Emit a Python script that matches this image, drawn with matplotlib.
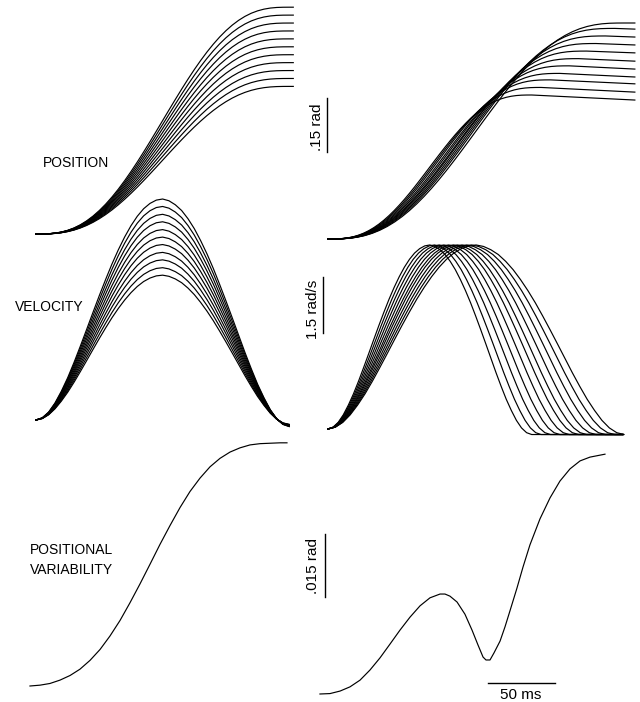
import numpy as np
import matplotlib.pyplot as plt

W, H = 640, 702
MS = 1.34          # pixels per ms
POS = 360.0        # pixels per rad (position)
VEL = 37.33        # pixels per rad/s
VAR = 4200.0       # pixels per rad (variability)

# normalised movement profiles, 41 samples from start to end of movement
s = np.linspace(0, 1, 41)
vel_shape = np.array([0, 0.010, 0.036, 0.077, 0.130, 0.191, 0.260, 0.334, 0.410, 0.487,
                      0.563, 0.636, 0.706, 0.770, 0.828, 0.879, 0.922, 0.956, 0.980, 0.995,
                      1.000, 0.992, 0.974, 0.948, 0.911, 0.866, 0.812, 0.752, 0.686, 0.614,
                      0.539, 0.462, 0.384, 0.306, 0.232, 0.162, 0.101, 0.047, 0.006, -0.020,
                      -0.030])
pos_shape = np.array([0, 0.0002, 0.0012, 0.0038, 0.0086, 0.0161, 0.0266, 0.0405, 0.0579, 0.0789,
                      0.1035, 0.1316, 0.1631, 0.1977, 0.2352, 0.2752, 0.3174, 0.3615, 0.4069, 0.4532,
                      0.5, 0.5468, 0.5931, 0.6385, 0.6826, 0.7248, 0.7648, 0.8023, 0.8369, 0.8684,
                      0.8965, 0.9211, 0.9421, 0.9595, 0.9734, 0.9839, 0.9914, 0.9962, 0.9988, 0.9998,
                      1.0])

# left column: same duration, different amplitudes
left_T = 189
left_end = 192
left_amp = [0.630, 0.608, 0.586, 0.564, 0.542, 0.520, 0.498, 0.476, 0.454, 0.432, 0.410]
left_vpeak = [5.92, 5.72, 5.51, 5.31, 5.10, 4.90, 4.70, 4.49, 4.29, 4.08, 3.88]

# right column: same peak velocity, different durations
right_T = [152, 159, 166, 173, 180, 187, 193, 200, 207, 214, 221]
right_amp = [0.400, 0.421, 0.442, 0.460, 0.481, 0.501, 0.522, 0.543, 0.564, 0.585, 0.600]
right_final = [0.386, 0.408, 0.431, 0.450, 0.472, 0.494, 0.517, 0.539, 0.561, 0.583, 0.600]
right_vpeak = 4.93
right_pos_end = 229
right_vel_end = 220

# positional variability (ms, rad)
var_left_t = [-4.5, 3.0, 10.4, 17.9, 25.4, 32.8, 40.3, 47.8, 55.2, 62.7, 70.1, 77.6, 85.1,
              92.5, 100.0, 107.5, 114.9, 122.4, 129.9, 137.3, 144.8, 152.2, 159.7, 167.2,
              174.6, 182.1, 187.3]
var_left = [0, 0.0002, 0.0006, 0.0014, 0.0025, 0.0040, 0.0061, 0.0087, 0.0119, 0.0156,
            0.0198, 0.0243, 0.0290, 0.0337, 0.0382, 0.0425, 0.0463, 0.0495, 0.0522, 0.0542,
            0.0557, 0.0567, 0.0574, 0.0577, 0.0578, 0.0579, 0.0579]
var_right_t = [-6.0, 1.5, 9.0, 16.4, 23.9, 31.3, 38.8, 46.3, 53.7, 61.2, 68.7, 76.1, 83.6,
               87.3, 91.0, 96.3, 102.2, 107.5, 111.9, 115.7, 117.9, 120.9, 123.9, 128.4,
               132.1, 135.8, 141.0, 145.5, 150.7, 158.2, 165.7, 173.1, 180.6, 188.1, 195.5,
               206.7]
var_right = [0, 0.0001, 0.0007, 0.0017, 0.0033, 0.0057, 0.0086, 0.0119, 0.0152, 0.0183,
             0.0210, 0.0229, 0.0238, 0.0238, 0.0233, 0.0219, 0.0190, 0.0152, 0.0117, 0.0088,
             0.0081, 0.0081, 0.0098, 0.0126, 0.0160, 0.0198, 0.0252, 0.0302, 0.0355, 0.0417,
             0.0467, 0.0507, 0.0536, 0.0555, 0.0564, 0.0571]

fig = plt.figure(figsize=(6.4, 7.02), dpi=100)


def panel(x0, y0, sy, xlim, ylim):
    left = x0 + xlim[0] * MS
    right = x0 + xlim[1] * MS
    bottom = y0 - ylim[0] * sy
    top = y0 - ylim[1] * sy
    ax = fig.add_axes([left / W, 1 - bottom / H, (right - left) / W, (bottom - top) / H])
    ax.set_xlim(xlim)
    ax.set_ylim(ylim)
    ax.axis('off')
    return ax


kw = dict(color='black', lw=0.85)

# left position
ax = panel(36, 234, POS, (-10, 200), (-0.02, 0.70))
for A in left_amp:
    ax.plot(np.append(s * left_T, left_end), np.append(A * pos_shape, A), **kw)

# left velocity
ax = panel(36, 420, VEL, (-10, 200), (-0.5, 6.2))
for V in left_vpeak:
    ax.plot(s * left_T, V * vel_shape, **kw)

# left variability
ax = panel(36, 686, VAR, (-10, 200), (-0.002, 0.062))
ax.plot(var_left_t, var_left, **kw)

# right position
ax = panel(328, 239, POS, (-10, 235), (-0.02, 0.65))
for T, A, F in zip(right_T, right_amp, right_final):
    ax.plot(np.append(s * T, right_pos_end), np.append(A * pos_shape, F), **kw)
ax.plot([-0.75, -0.75], [0.242, 0.392], color='black', lw=1, clip_on=False)

# right velocity
ax = panel(328, 429, VEL, (-10, 225), (-0.5, 5.2))
for T in right_T:
    ax.plot(np.append(s * T, right_vel_end), np.append(right_vpeak * vel_shape, right_vpeak * vel_shape[-1]), **kw)
ax.plot([-3.7, -3.7], [2.57, 4.07], color='black', lw=1, clip_on=False)

# right variability
ax = panel(328, 694, VAR, (-10, 215), (-0.002, 0.062))
ax.plot(var_right_t, var_right, **kw)
ax.plot([-2.2, -2.2], [0.0231, 0.0381], color='black', lw=1, clip_on=False)
ax.plot([119.4, 169.4], [0.0026, 0.0026], color='black', lw=1, clip_on=False)

font = dict(family='Liberation Sans', color='black')
fig.text(43 / W, 1 - 163 / H, 'POSITION', fontsize=10, va='center', ha='left', **font)
fig.text(15 / W, 1 - 307 / H, 'VELOCITY', fontsize=10, va='center', ha='left', **font)
fig.text(30 / W, 1 - 550 / H, 'POSITIONAL', fontsize=10, va='center', ha='left', **font)
fig.text(30 / W, 1 - 570 / H, 'VARIABILITY', fontsize=10, va='center', ha='left', **font)

fig.text(317 / W, 1 - 127 / H, '.15 rad', fontsize=11, rotation=90, va='center', ha='center', **font)
fig.text(313 / W, 1 - 309 / H, '1.5 rad/s', fontsize=11, rotation=90, va='center', ha='center', **font)
fig.text(313 / W, 1 - 566 / H, '.015 rad', fontsize=11, rotation=90, va='center', ha='center', **font)
fig.text(521 / W, 1 - 695 / H, '50 ms', fontsize=11, va='center', ha='center', **font)

fig.savefig('out.png', dpi=100, facecolor='white')
